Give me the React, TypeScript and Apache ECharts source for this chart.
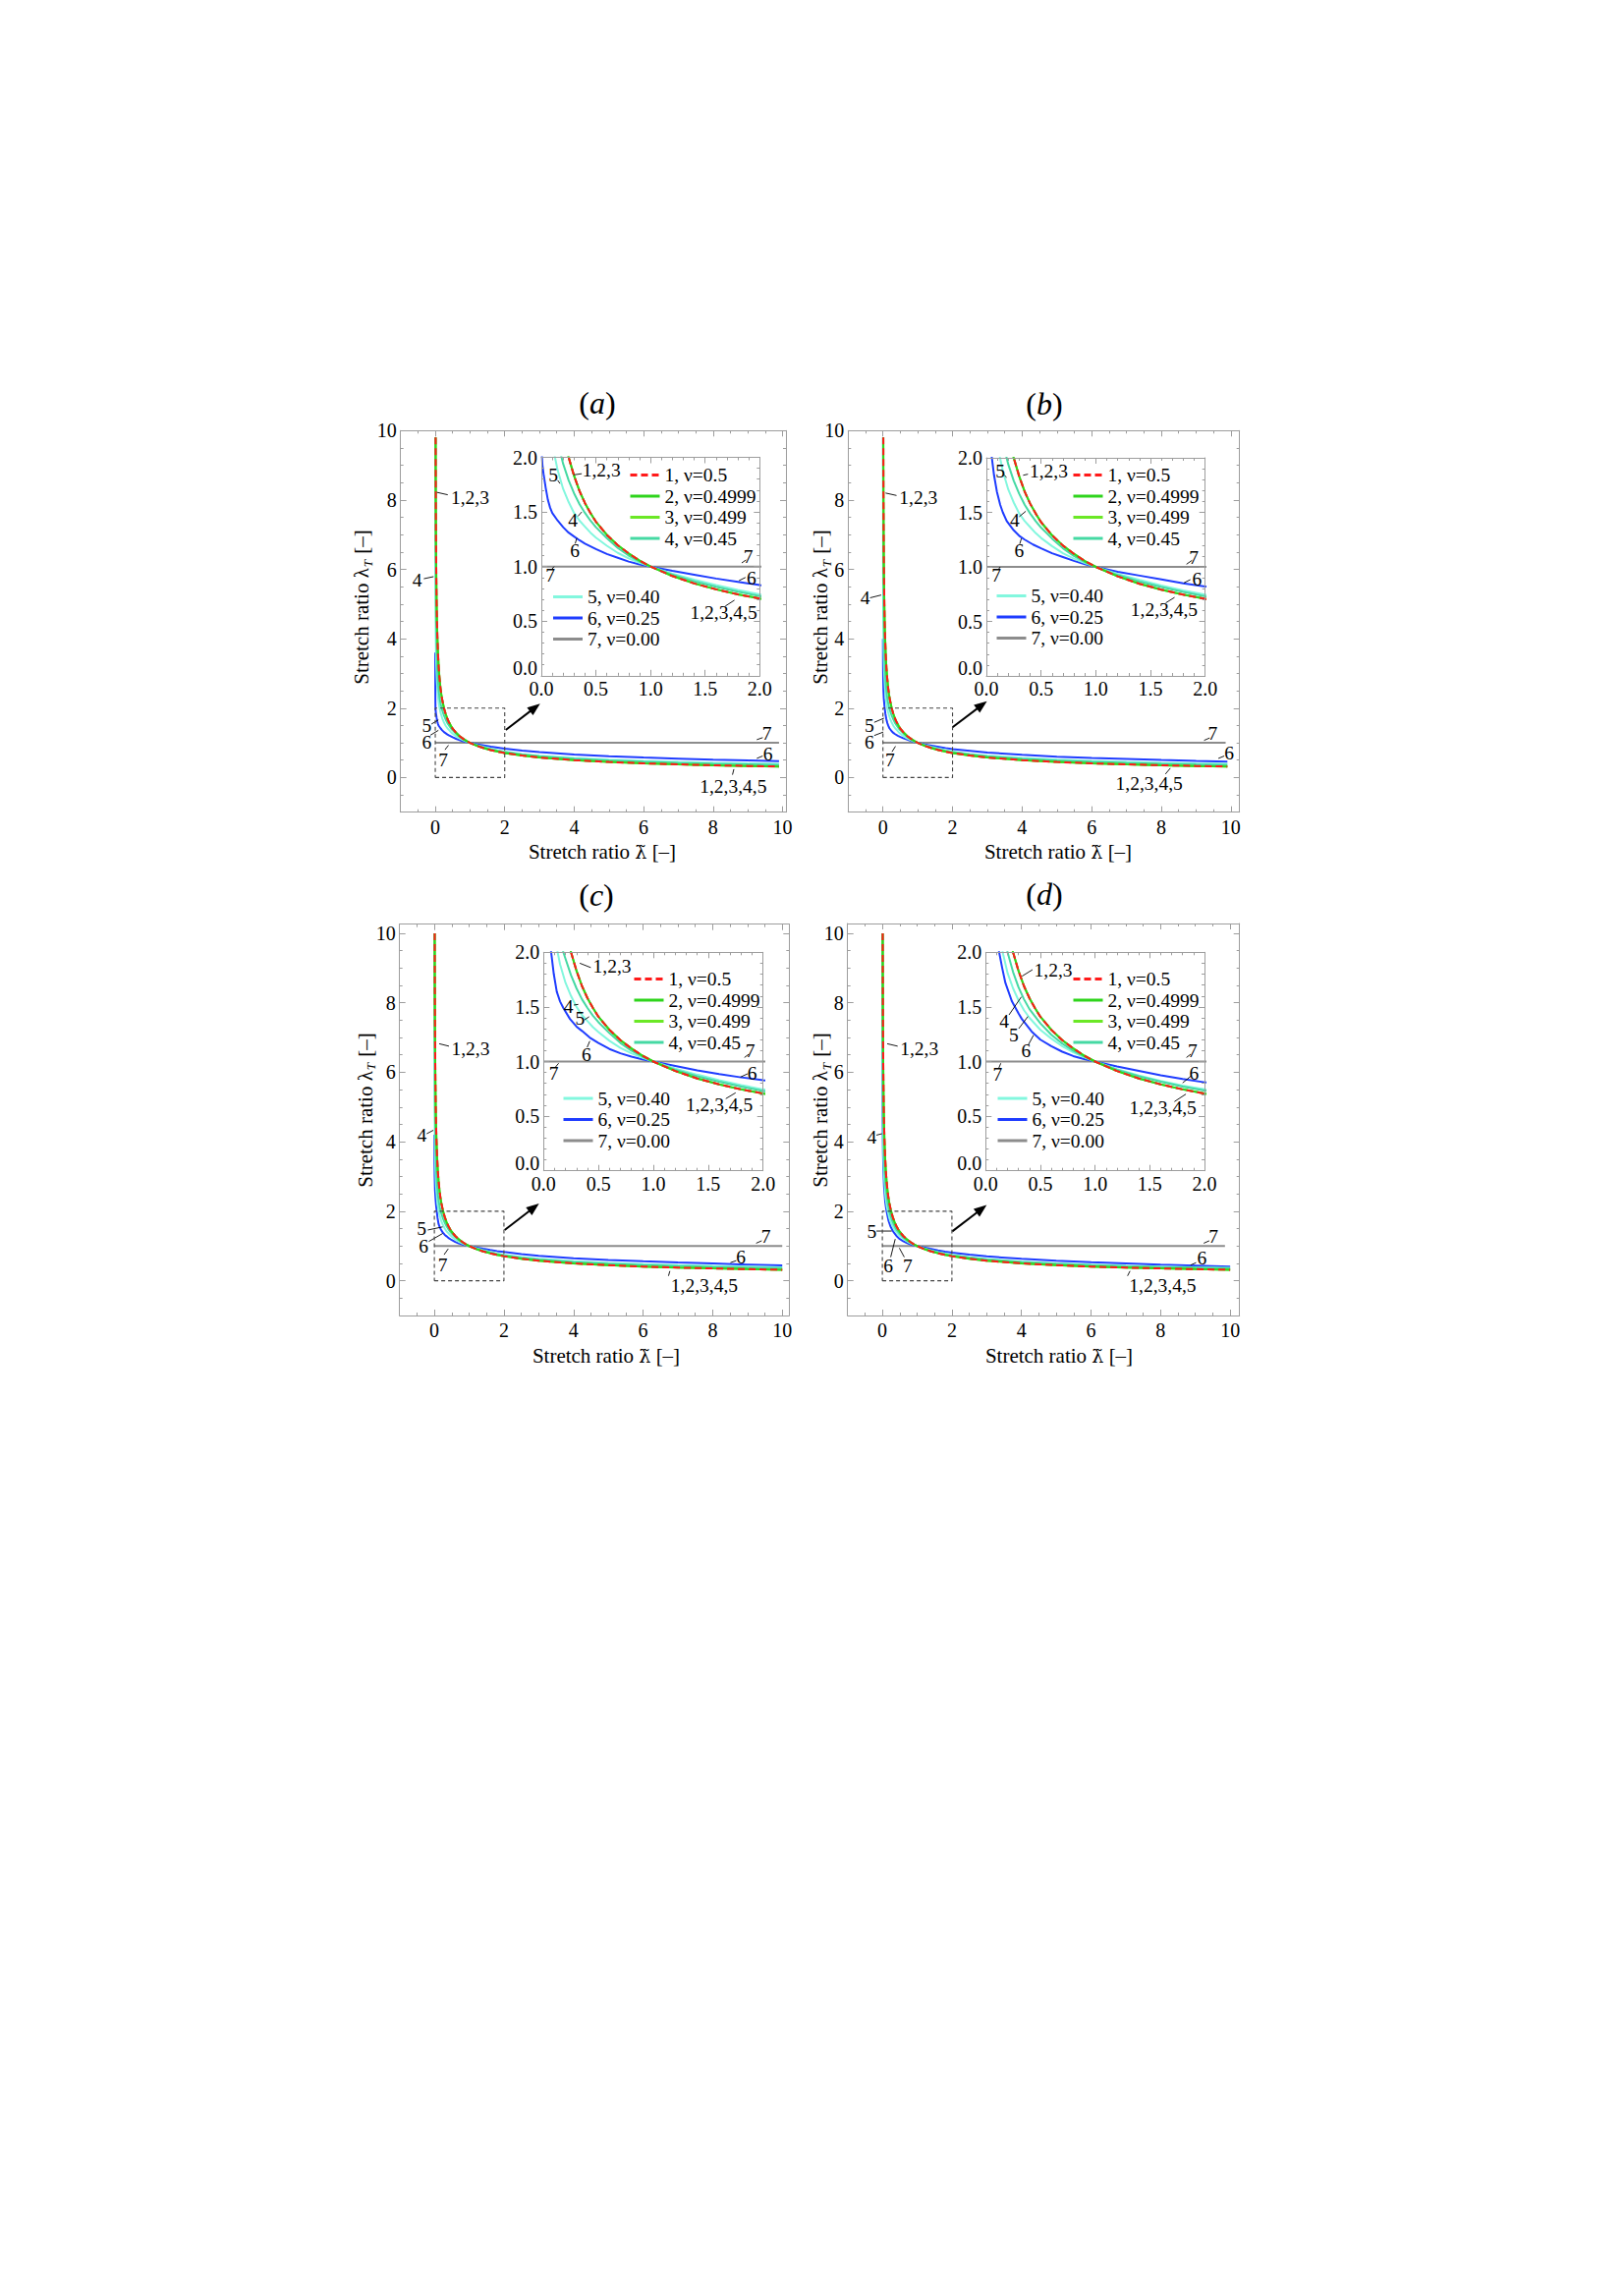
import React, { useEffect, useRef } from "react";
import * as echarts from "echarts";

const FONT = "'Liberation Serif', 'Times New Roman', serif";
const MARK_FONT = "'DejaVu Serif', 'Liberation Serif', serif";
const FRAME = "#9d9d9d";

const SERIES_NAMES = ["1, ν=0.5", "2, ν=0.4999", "3, ν=0.499", "4, ν=0.45", "5, ν=0.40", "6, ν=0.25", "7, ν=0.00"];
const SERIES_COLORS = ["#ff1a1a", "#2fd41c", "#6be825", "#45d9a3", "#83f7de", "#1f3dff", "#8c8c8c"];

const MAIN_MAJOR = [0, 2, 4, 6, 8, 10];
const MAIN_MINOR = [-0.5, 0, 0.5, 1, 1.5, 2, 2.5, 3, 3.5, 4, 4.5, 5, 5.5, 6, 6.5, 7, 7.5, 8, 8.5, 9, 9.5, 10];
const INSET_MAJOR = [0, 0.5, 1, 1.5, 2];
const INSET_MINOR = [0.1, 0.2, 0.3, 0.4, 0.6, 0.7, 0.8, 0.9, 1.1, 1.2, 1.3, 1.4, 1.6, 1.7, 1.8, 1.9];
const ZOOM_BOX = [[0, 0], [2, 0], [2, 2], [0, 2], [0, 0]];

// ---- curves: [stretch ratio λ̃, λ_T] ----
const A1 = [[0.0104, 9.8], [0.0125, 8.94], [0.015, 8.16], [0.0175, 7.56], [0.02, 7.07], [0.025, 6.32], [0.03, 5.77], [0.04, 5.0], [0.05, 4.47], [0.06, 4.08], [0.08, 3.54], [0.1, 3.16], [0.12, 2.89], [0.15, 2.58], [0.175, 2.39], [0.2, 2.24], [0.25, 2.0], [0.3, 1.83], [0.35, 1.69], [0.4, 1.58], [0.45, 1.49], [0.5, 1.41], [0.6, 1.29], [0.7, 1.195], [0.8, 1.12], [0.9, 1.054], [1, 1], [1.2, 0.913], [1.4, 0.845], [1.6, 0.791], [1.8, 0.745], [2, 0.707], [2.5, 0.632], [3, 0.577], [4, 0.5], [5, 0.447], [6, 0.408], [7, 0.378], [8, 0.354], [9, 0.333], [9.9, 0.318]];
const A4 = [[0.0048, 9.8], [0.006, 8.9], [0.008, 7.8], [0.01, 7.0], [0.0125, 6.3], [0.015, 5.8], [0.02, 5.1], [0.025, 4.6], [0.03, 4.25], [0.04, 3.75], [0.05, 3.4], [0.06, 3.1], [0.08, 2.75], [0.1, 2.5], [0.12, 2.33], [0.15, 2.14], [0.185, 2.0], [0.2, 1.94], [0.25, 1.79], [0.3, 1.67], [0.35, 1.57], [0.4, 1.49], [0.45, 1.42], [0.5, 1.36], [0.6, 1.26], [0.7, 1.17], [0.8, 1.1], [0.9, 1.045], [1, 1], [1.2, 0.925], [1.4, 0.865], [1.6, 0.815], [1.8, 0.77], [2, 0.73], [2.5, 0.66], [3, 0.61], [4, 0.54], [5, 0.49], [6, 0.455], [7, 0.425], [8, 0.4], [9, 0.38], [9.9, 0.365]];
const A5 = [[0.001, 9.8], [0.002, 7.9], [0.003, 6.9], [0.005, 5.8], [0.0075, 5.1], [0.01, 4.6], [0.015, 4.05], [0.02, 3.68], [0.03, 3.22], [0.04, 2.92], [0.05, 2.71], [0.06, 2.55], [0.08, 2.32], [0.1, 2.15], [0.125, 2.0], [0.15, 1.88], [0.2, 1.71], [0.25, 1.59], [0.3, 1.49], [0.35, 1.42], [0.4, 1.365], [0.45, 1.31], [0.5, 1.265], [0.6, 1.19], [0.7, 1.125], [0.8, 1.075], [0.9, 1.035], [1, 1], [1.2, 0.935], [1.4, 0.88], [1.6, 0.83], [1.8, 0.785], [2, 0.745], [2.5, 0.68], [3, 0.63], [4, 0.56], [5, 0.515], [6, 0.48], [7, 0.45], [8, 0.425], [9, 0.405], [9.9, 0.39]];
const A6 = [[0.0003, 3.6], [0.001, 2.9], [0.002, 2.5], [0.004, 2.15], [0.006, 2.0], [0.01, 1.93], [0.02, 1.85], [0.04, 1.72], [0.06, 1.61], [0.08, 1.54], [0.1, 1.49], [0.15, 1.42], [0.2, 1.36], [0.25, 1.31], [0.3, 1.275], [0.35, 1.24], [0.4, 1.21], [0.5, 1.16], [0.6, 1.115], [0.7, 1.08], [0.8, 1.045], [0.9, 1.02], [1, 1], [1.2, 0.96], [1.4, 0.925], [1.6, 0.89], [1.8, 0.86], [2, 0.83], [2.5, 0.775], [3, 0.73], [4, 0.665], [5, 0.615], [6, 0.575], [7, 0.545], [8, 0.515], [9, 0.49], [9.9, 0.47]];
const A7 = [[0, 1], [9.9, 1]];

const B6 = [[0.0008, 4.0], [0.003, 3.3], [0.008, 2.8], [0.015, 2.5], [0.025, 2.28], [0.04, 2.1], [0.05, 2.0], [0.07, 1.84], [0.096, 1.69], [0.126, 1.57], [0.15, 1.5], [0.186, 1.42], [0.25, 1.335], [0.306, 1.28], [0.35, 1.25], [0.426, 1.205], [0.5, 1.17], [0.6, 1.125], [0.7, 1.09], [0.8, 1.055], [0.9, 1.025], [1, 1], [1.2, 0.955], [1.4, 0.92], [1.6, 0.885], [1.8, 0.85], [2, 0.82], [2.5, 0.77], [3, 0.72], [4, 0.655], [5, 0.6], [6, 0.565], [7, 0.535], [8, 0.505], [9, 0.48], [9.9, 0.46]];
const B7 = [[0, 1], [9.85, 1]];

const C1 = [[0.01, 10.0], [0.0125, 8.94], [0.015, 8.16], [0.0175, 7.56], [0.02, 7.07], [0.025, 6.32], [0.03, 5.77], [0.04, 5.0], [0.05, 4.47], [0.06, 4.08], [0.08, 3.54], [0.1, 3.16], [0.12, 2.89], [0.15, 2.58], [0.175, 2.39], [0.2, 2.24], [0.25, 2.0], [0.3, 1.83], [0.35, 1.69], [0.4, 1.58], [0.45, 1.49], [0.5, 1.41], [0.6, 1.29], [0.7, 1.195], [0.8, 1.12], [0.9, 1.054], [1, 1], [1.2, 0.913], [1.4, 0.845], [1.6, 0.791], [1.8, 0.745], [2, 0.707], [2.5, 0.632], [3, 0.577], [4, 0.5], [5, 0.447], [6, 0.408], [7, 0.378], [8, 0.354], [9, 0.333], [10, 0.316]];
const C4 = [[0.0045, 10.0], [0.006, 8.9], [0.008, 7.8], [0.01, 7.0], [0.0125, 6.3], [0.015, 5.8], [0.02, 5.1], [0.025, 4.6], [0.03, 4.25], [0.04, 3.75], [0.05, 3.4], [0.06, 3.1], [0.08, 2.75], [0.1, 2.5], [0.12, 2.33], [0.15, 2.14], [0.18, 2.0], [0.2, 1.94], [0.25, 1.79], [0.3, 1.67], [0.35, 1.57], [0.4, 1.49], [0.45, 1.42], [0.5, 1.36], [0.6, 1.26], [0.7, 1.17], [0.8, 1.1], [0.9, 1.045], [1, 1], [1.2, 0.925], [1.4, 0.865], [1.6, 0.815], [1.8, 0.77], [2, 0.73], [2.5, 0.66], [3, 0.61], [4, 0.54], [5, 0.49], [6, 0.455], [7, 0.425], [8, 0.4], [9, 0.38], [10, 0.363]];
const C5 = [[0.001, 10.0], [0.002, 7.9], [0.003, 6.9], [0.005, 5.8], [0.0075, 5.1], [0.01, 4.6], [0.015, 4.05], [0.02, 3.68], [0.03, 3.22], [0.04, 2.92], [0.05, 2.71], [0.06, 2.55], [0.08, 2.32], [0.1, 2.15], [0.128, 2.0], [0.15, 1.89], [0.2, 1.72], [0.25, 1.6], [0.3, 1.5], [0.35, 1.425], [0.4, 1.37], [0.45, 1.315], [0.5, 1.27], [0.6, 1.19], [0.7, 1.125], [0.8, 1.075], [0.9, 1.035], [1, 1], [1.2, 0.935], [1.4, 0.88], [1.6, 0.83], [1.8, 0.785], [2, 0.745], [2.5, 0.68], [3, 0.63], [4, 0.56], [5, 0.515], [6, 0.48], [7, 0.45], [8, 0.425], [9, 0.405], [10, 0.388]];
const C6 = [[0.001, 4.2], [0.005, 3.4], [0.01, 3.0], [0.02, 2.6], [0.035, 2.35], [0.05, 2.17], [0.069, 2.0], [0.093, 1.8], [0.12, 1.64], [0.15, 1.55], [0.18, 1.49], [0.24, 1.39], [0.3, 1.32], [0.35, 1.28], [0.42, 1.22], [0.5, 1.17], [0.6, 1.115], [0.7, 1.075], [0.8, 1.045], [0.9, 1.02], [1, 1], [1.2, 0.96], [1.4, 0.92], [1.6, 0.885], [1.8, 0.855], [2, 0.83], [2.5, 0.77], [3, 0.72], [4, 0.65], [5, 0.6], [6, 0.56], [7, 0.525], [8, 0.495], [9, 0.465], [10, 0.44]];
const C7 = [[0, 1], [10, 1]];

const D4 = [[0.005, 10.0], [0.0075, 8.25], [0.01, 7.25], [0.015, 6.1], [0.02, 5.4], [0.03, 4.5], [0.05, 3.63], [0.08, 2.96], [0.1, 2.69], [0.15, 2.26], [0.2, 2.0], [0.25, 1.82], [0.3, 1.68], [0.35, 1.57], [0.4, 1.48], [0.5, 1.35], [0.6, 1.245], [0.7, 1.165], [0.8, 1.1], [0.9, 1.046], [1, 1], [1.2, 0.925], [1.4, 0.865], [1.6, 0.815], [1.8, 0.77], [2, 0.735], [2.5, 0.665], [3, 0.615], [4, 0.54], [5, 0.49], [6, 0.45], [7, 0.42], [8, 0.395], [9, 0.375], [10, 0.355]];
const D5 = [[0.0015, 9.8], [0.003, 7.8], [0.005, 6.6], [0.01, 5.5], [0.02, 4.25], [0.03, 3.66], [0.05, 3.03], [0.08, 2.54], [0.1, 2.34], [0.13, 2.13], [0.16, 1.98], [0.2, 1.81], [0.25, 1.67], [0.3, 1.56], [0.35, 1.47], [0.4, 1.4], [0.5, 1.29], [0.6, 1.21], [0.7, 1.14], [0.8, 1.085], [0.9, 1.04], [1, 1], [1.2, 0.93], [1.4, 0.873], [1.6, 0.822], [1.8, 0.78], [2, 0.745], [2.5, 0.675], [3, 0.625], [4, 0.55], [5, 0.5], [6, 0.46], [7, 0.43], [8, 0.405], [9, 0.385], [10, 0.37]];
const D6 = [[0.001, 9.9], [0.002, 7.9], [0.005, 5.8], [0.01, 4.6], [0.02, 3.65], [0.03, 3.2], [0.05, 2.7], [0.08, 2.3], [0.1, 2.14], [0.123, 2.0], [0.15, 1.86], [0.18, 1.72], [0.24, 1.55], [0.3, 1.44], [0.33, 1.39], [0.42, 1.275], [0.5, 1.2], [0.6, 1.14], [0.7, 1.09], [0.8, 1.05], [0.9, 1.022], [1, 1], [1.2, 0.955], [1.4, 0.915], [1.6, 0.875], [1.8, 0.84], [2, 0.81], [2.5, 0.75], [3, 0.7], [4, 0.63], [5, 0.575], [6, 0.535], [7, 0.5], [8, 0.465], [9, 0.435], [10, 0.405]];
const D7 = [[0, 1], [9.85, 1]];

// ---- curve labels with leader lines (text position, leader from, leader to) ----
const A_MAIN_NOTES = [
  { text: "1,2,3", at: [1.0, 8.08], from: [0.05, 8.22], to: [0.36, 8.15] },
  { text: "4", at: [-0.52, 5.7], from: [-0.33, 5.73], to: [-0.05, 5.79] },
  { text: "5", at: [-0.245, 1.5], from: [-0.11, 1.54], to: [0.09, 1.66] },
  { text: "6", at: [-0.245, 1.02], from: [-0.14, 1.22], to: [0.09, 1.36] },
  { text: "7", at: [0.23, 0.52], from: [0.28, 0.8], to: [0.38, 0.93] },
  { text: "7", at: [9.55, 1.28], from: [9.26, 1.09], to: [9.43, 1.15] },
  { text: "6", at: [9.58, 0.69], from: [9.26, 0.55], to: [9.43, 0.62] },
  { text: "1,2,3,4,5", at: [8.58, -0.27], from: [8.56, 0.08], to: [8.6, 0.24] },
];
const A_INSET_NOTES = [
  { text: "5", at: [0.11, 1.84], from: [0.15, 1.79], to: [0.17, 1.76] },
  { text: "1,2,3", at: [0.55, 1.88], from: [0.3, 1.84], to: [0.37, 1.85] },
  { text: "4", at: [0.29, 1.42], from: [0.335, 1.46], to: [0.37, 1.5] },
  { text: "6", at: [0.306, 1.147], from: [0.31, 1.21], to: [0.325, 1.26] },
  { text: "7", at: [0.081, 0.922], from: [0.096, 0.975], to: [0.117, 1.0] },
  { text: "7", at: [1.895, 1.093], from: [1.835, 1.033], to: [1.875, 1.06] },
  { text: "6", at: [1.925, 0.892], from: [1.81, 0.871], to: [1.87, 0.9] },
  { text: "1,2,3,4,5", at: [1.67, 0.578], from: [1.685, 0.638], to: [1.769, 0.692] },
];
const B_MAIN_NOTES = [
  { text: "1,2,3", at: [1.02, 8.08], from: [0.075, 8.2], to: [0.39, 8.13] },
  { text: "4", at: [-0.51, 5.19], from: [-0.37, 5.18], to: [-0.05, 5.26] },
  { text: "5", at: [-0.39, 1.5], from: [-0.25, 1.59], to: [0.03, 1.71] },
  { text: "6", at: [-0.39, 1.02], from: [-0.25, 1.21], to: [0.01, 1.31] },
  { text: "7", at: [0.2, 0.5], from: [0.26, 0.74], to: [0.36, 0.9] },
  { text: "7", at: [9.48, 1.26], from: [9.23, 1.07], to: [9.39, 1.14] },
  { text: "6", at: [9.95, 0.71], from: [9.64, 0.55], to: [9.81, 0.62] },
  { text: "1,2,3,4,5", at: [7.65, -0.16], from: [8.12, 0.1], to: [8.26, 0.27] },
];
const B_INSET_NOTES = [
  { text: "5", at: [0.126, 1.88], from: [0.165, 1.84], to: [0.185, 1.82] },
  { text: "1,2,3", at: [0.57, 1.88], from: [0.336, 1.84], to: [0.38, 1.85] },
  { text: "4", at: [0.26, 1.43], from: [0.3, 1.46], to: [0.36, 1.51] },
  { text: "6", at: [0.3, 1.147], from: [0.305, 1.21], to: [0.32, 1.26] },
  { text: "7", at: [0.09, 0.922], from: [0.11, 0.975], to: [0.126, 1.0] },
  { text: "7", at: [1.895, 1.087], from: [1.829, 1.024], to: [1.88, 1.06] },
  { text: "6", at: [1.925, 0.883], from: [1.805, 0.853], to: [1.865, 0.883] },
  { text: "1,2,3,4,5", at: [1.625, 0.61], from: [1.64, 0.67], to: [1.72, 0.72] },
];
const C_MAIN_NOTES = [
  { text: "1,2,3", at: [1.04, 6.68], from: [0.14, 6.82], to: [0.42, 6.75] },
  { text: "4", at: [-0.36, 4.19], from: [-0.22, 4.23], to: [-0.03, 4.33] },
  { text: "5", at: [-0.37, 1.5], from: [-0.19, 1.46], to: [0.24, 1.55] },
  { text: "6", at: [-0.31, 0.99], from: [-0.16, 1.13], to: [0.24, 1.36] },
  { text: "7", at: [0.24, 0.47], from: [0.28, 0.75], to: [0.4, 0.92] },
  { text: "7", at: [9.53, 1.27], from: [9.25, 1.08], to: [9.41, 1.15] },
  { text: "6", at: [8.81, 0.68], from: [8.51, 0.52], to: [8.68, 0.58] },
  { text: "1,2,3,4,5", at: [7.76, -0.14], from: [6.73, 0.14], to: [6.77, 0.28] },
];
const C_INSET_NOTES = [
  { text: "1,2,3", at: [0.624, 1.87], from: [0.33, 1.9], to: [0.43, 1.86] },
  { text: "4", at: [0.227, 1.502], from: [0.275, 1.517], to: [0.316, 1.523] },
  { text: "5", at: [0.331, 1.397], from: [0.37, 1.38], to: [0.415, 1.41] },
  { text: "6", at: [0.391, 1.067], from: [0.397, 1.13], to: [0.421, 1.187] },
  { text: "7", at: [0.093, 0.888], from: [0.107, 0.948], to: [0.137, 0.984] },
  { text: "7", at: [1.884, 1.097], from: [1.83, 1.037], to: [1.87, 1.067] },
  { text: "6", at: [1.9, 0.894], from: [1.794, 0.858], to: [1.86, 0.888] },
  { text: "1,2,3,4,5", at: [1.6, 0.6], from: [1.66, 0.66], to: [1.75, 0.714] },
];
const D_MAIN_NOTES = [
  { text: "1,2,3", at: [1.06, 6.68], from: [0.14, 6.82], to: [0.44, 6.75] },
  { text: "4", at: [-0.3, 4.14], from: [-0.17, 4.19], to: [-0.01, 4.23] },
  { text: "5", at: [-0.3, 1.43], from: [-0.17, 1.43], to: [0.27, 1.43] },
  { text: "6", at: [0.17, 0.42], from: [0.24, 0.68], to: [0.37, 1.2] },
  { text: "7", at: [0.73, 0.42], from: [0.63, 0.68], to: [0.49, 0.94] },
  { text: "7", at: [9.52, 1.27], from: [9.24, 1.08], to: [9.4, 1.15] },
  { text: "6", at: [9.19, 0.64], from: [8.86, 0.45], to: [9.02, 0.52] },
  { text: "1,2,3,4,5", at: [8.06, -0.14], from: [7.05, 0.14], to: [7.12, 0.28] },
];
const D_INSET_NOTES = [
  { text: "1,2,3", at: [0.617, 1.84], from: [0.332, 1.781], to: [0.428, 1.841] },
  { text: "4", at: [0.168, 1.373], from: [0.213, 1.427], to: [0.326, 1.592] },
  { text: "5", at: [0.257, 1.247], from: [0.302, 1.301], to: [0.386, 1.412] },
  { text: "6", at: [0.368, 1.103], from: [0.392, 1.157], to: [0.437, 1.241] },
  { text: "7", at: [0.108, 0.881], from: [0.117, 0.933], to: [0.138, 0.984] },
  { text: "7", at: [1.89, 1.097], from: [1.835, 1.037], to: [1.874, 1.067] },
  { text: "6", at: [1.904, 0.888], from: [1.8, 0.804], to: [1.883, 0.873] },
  { text: "1,2,3,4,5", at: [1.62, 0.58], from: [1.725, 0.633], to: [1.83, 0.702] },
];

const PANELS = [
  {
    letter: "a",
    main: { left: 407.7, top: 438.3, width: 392.3, height: 388.4, x: [-1, 10.1], y: [-1, 10] },
    inset: { left: 551, top: 465.5, width: 222.3, height: 222.3 },
    curves: [A1, A1, A1, A4, A5, A6, A7],
    mainNotes: A_MAIN_NOTES, insetNotes: A_INSET_NOTES,
    arrow: [[2.03, 1.37], [3.02, 2.13]],
    titleAt: [608, 410], xNameAt: [613, 867], yNameAt: [368, 618],
    legend1: [640, 473.5], legend2: [561.5, 597.5],
  },
  {
    letter: "b",
    main: { left: 863.3, top: 438.3, width: 398.4, height: 388.4, x: [-1, 10.25], y: [-1, 10] },
    inset: { left: 1004, top: 466, width: 222.7, height: 222 },
    curves: [A1, A1, A1, A4, A5, B6, B7],
    mainNotes: B_MAIN_NOTES, insetNotes: B_INSET_NOTES,
    arrow: [[2.0, 1.45], [2.99, 2.2]],
    titleAt: [1063, 411], xNameAt: [1077, 867], yNameAt: [835, 618],
    legend1: [1091, 473.5], legend2: [1013, 596.5],
  },
  {
    letter: "c",
    main: { left: 406.7, top: 940.7, width: 396.6, height: 398.3, x: [-1, 10.2], y: [-1, 10.26] },
    inset: { left: 553.3, top: 969.3, width: 223.4, height: 222.4 },
    curves: [C1, C1, C1, C4, C5, C6, C7],
    mainNotes: C_MAIN_NOTES, insetNotes: C_INSET_NOTES,
    arrow: [[2.02, 1.46], [3.01, 2.22]],
    titleAt: [607, 911], xNameAt: [617, 1380], yNameAt: [371.7, 1130],
    legend1: [644, 986.5], legend2: [572, 1108],
  },
  {
    letter: "d",
    main: { left: 862.7, top: 940, width: 399, height: 399, x: [-1, 10.27], y: [-1, 10.28] },
    inset: { left: 1003.3, top: 969.3, width: 222.7, height: 222.4 },
    curves: [C1, C1, C1, D4, D5, D6, D7],
    mainNotes: D_MAIN_NOTES, insetNotes: D_INSET_NOTES,
    arrow: [[2.01, 1.42], [3.0, 2.18]],
    titleAt: [1063, 910], xNameAt: [1078, 1380], yNameAt: [835, 1130],
    legend1: [1091, 986.5], legend2: [1014, 1108],
  },
];

const TICK_FONT = 20;
const NOTE_FONT = 19.5;
const LEGEND_FONT = 19.5;
const NAME_FONT = 21;
const TITLE_FONT = 32;

function buildAxes(gi: number, xr: number[], yr: number[], major: number[], minor: number[], fmt: (v: number) => string, z: number, inset: boolean) {
  const base = { type: "value", gridIndex: gi, splitLine: { show: false }, z, silent: true };
  const frame = { show: true, onZero: false, lineStyle: { color: FRAME, width: 1 } };
  const noLine = { show: false, onZero: false };
  const majTick = { show: true, inside: true, length: 6, customValues: major, lineStyle: { color: FRAME, width: 1 } };
  const minTick = { show: true, inside: true, length: 3, customValues: minor, lineStyle: { color: FRAME, width: 1 } };
  const label = { show: true, customValues: major, formatter: fmt, color: "#000", fontFamily: FONT, fontSize: TICK_FONT, margin: inset ? 3 : 5 };
  const yLabel = inset
    ? {
        ...label, margin: 4,
        formatter: (v: number) => (v === 0 ? "{lo|" + fmt(v) + "}" : fmt(v)),
        rich: { lo: { fontFamily: FONT, fontSize: TICK_FONT, color: "#000", padding: [0, 0, 16, 0] } },
      }
    : { ...label, margin: 4 };
  const off = { show: false };
  const xs = [
    { ...base, position: "bottom", min: xr[0], max: xr[1], axisLine: frame, axisTick: majTick, axisLabel: label },
    { ...base, position: "bottom", min: xr[0], max: xr[1], axisLine: noLine, axisTick: minTick, axisLabel: off },
    { ...base, position: "top", min: xr[0], max: xr[1], axisLine: frame, axisTick: majTick, axisLabel: off },
    { ...base, position: "top", min: xr[0], max: xr[1], axisLine: noLine, axisTick: minTick, axisLabel: off },
  ];
  const ys = [
    { ...base, position: "left", min: yr[0], max: yr[1], axisLine: frame, axisTick: majTick, axisLabel: yLabel },
    { ...base, position: "left", min: yr[0], max: yr[1], axisLine: noLine, axisTick: minTick, axisLabel: off },
    { ...base, position: "right", min: yr[0], max: yr[1], axisLine: frame, axisTick: majTick, axisLabel: off },
    { ...base, position: "right", min: yr[0], max: yr[1], axisLine: noLine, axisTick: minTick, axisLabel: off },
  ];
  return { xs, ys };
}

function lineSeries(gi: number, idx: number, data: number[][], z: number) {
  return {
    type: "line", name: SERIES_NAMES[idx], xAxisIndex: 4 * gi, yAxisIndex: 4 * gi, data,
    showSymbol: false, symbol: "none", z, silent: true, clip: true, animation: false,
    emphasis: { disabled: true },
    itemStyle: { color: SERIES_COLORS[idx] },
    lineStyle: { color: SERIES_COLORS[idx], width: 2, type: idx === 0 ? [7, 4] : "solid" },
  };
}

function notesSeries(gi: number, notes: any[], z: number) {
  return {
    type: "custom", xAxisIndex: 4 * gi, yAxisIndex: 4 * gi, z, silent: true, clip: false, animation: false,
    data: notes.map((n) => n.at),
    renderItem: (params: any, api: any) => {
      const n = notes[params.dataIndex];
      const t = api.coord(n.at);
      const p = api.coord(n.from);
      const q = api.coord(n.to);
      return {
        type: "group",
        children: [
          { type: "line", shape: { x1: p[0], y1: p[1], x2: q[0], y2: q[1] }, style: { stroke: "#000", lineWidth: 0.9 } },
          { type: "text", x: t[0], y: t[1], style: { text: n.text, fontSize: NOTE_FONT, fontFamily: FONT, fill: "#000", align: "center", verticalAlign: "middle" } },
        ],
      };
    },
  };
}

function arrowSeries(gi: number, arrow: number[][], z: number) {
  return {
    type: "custom", xAxisIndex: 4 * gi, yAxisIndex: 4 * gi, z, silent: true, clip: false, animation: false,
    data: [arrow[1]],
    renderItem: (_params: any, api: any) => {
      const p = api.coord(arrow[0]);
      const q = api.coord(arrow[1]);
      const dx = q[0] - p[0], dy = q[1] - p[1];
      const L = Math.hypot(dx, dy);
      const ux = dx / L, uy = dy / L;
      const hl = 13, hw = 5;
      const bx = q[0] - ux * hl, by = q[1] - uy * hl;
      return {
        type: "group",
        children: [
          { type: "line", shape: { x1: p[0], y1: p[1], x2: bx + ux * 2, y2: by + uy * 2 }, style: { stroke: "#000", lineWidth: 2 } },
          { type: "polygon", shape: { points: [[q[0], q[1]], [bx - uy * hw, by + ux * hw], [bx + uy * hw, by - ux * hw]] }, style: { fill: "#000" } },
        ],
      };
    },
  };
}

function buildOption() {
  const grids: any[] = [];
  const xAxes: any[] = [];
  const yAxes: any[] = [];
  const series: any[] = [];
  const legends: any[] = [];
  const graphics: any[] = [];
  const legendBase = {
    orient: "vertical", itemWidth: 30, itemHeight: 14, itemGap: 1.5, padding: 0, selectedMode: false, z: 15,
    textStyle: { fontSize: LEGEND_FONT, fontFamily: FONT, color: "#000", lineHeight: 19.5 },
    lineStyle: { width: 3 },
    itemStyle: { opacity: 0, borderWidth: 0 },
  };

  PANELS.forEach((p, pi) => {
    const gm = 2 * pi;
    const gin = 2 * pi + 1;
    grids.push({ left: p.main.left, top: p.main.top, width: p.main.width, height: p.main.height, show: false, z: 2 });
    grids.push({ left: p.inset.left, top: p.inset.top, width: p.inset.width, height: p.inset.height, show: true, backgroundColor: "#fff", borderWidth: 0, z: 10 });

    const m = buildAxes(gm, p.main.x, p.main.y, MAIN_MAJOR, MAIN_MINOR, (v: number) => String(v), 1, false);
    xAxes.push(...m.xs); yAxes.push(...m.ys);
    const ins = buildAxes(gin, [0, 2], [0, 2], INSET_MAJOR, INSET_MINOR, (v: number) => v.toFixed(1), 12, true);
    xAxes.push(...ins.xs); yAxes.push(...ins.ys);

    for (let k = 6; k >= 0; k--) series.push(lineSeries(gm, k, p.curves[k], 2));
    series.push({
      type: "line", name: "zoom box", xAxisIndex: 4 * gm, yAxisIndex: 4 * gm, data: ZOOM_BOX,
      showSymbol: false, symbol: "none", z: 3, silent: true, clip: false,
      lineStyle: { color: "#444", width: 1.1, type: [4, 3] },
    });
    series.push(notesSeries(gm, p.mainNotes, 3));
    series.push(arrowSeries(gm, p.arrow, 3));

    for (let k = 6; k >= 0; k--) series.push(lineSeries(gin, k, p.curves[k], 11));
    series.push(notesSeries(gin, p.insetNotes, 13));

    legends.push({ ...legendBase, data: SERIES_NAMES.slice(0, 4), left: p.legend1[0], top: p.legend1[1] });
    legends.push({ ...legendBase, data: SERIES_NAMES.slice(4), left: p.legend2[0], top: p.legend2[1] });

    graphics.push({
      type: "text", x: p.titleAt[0], y: p.titleAt[1], silent: true,
      style: {
        text: `{p|(}{i|${p.letter}}{p|)}`,
        rich: { p: { fontSize: TITLE_FONT, fontFamily: FONT }, i: { fontSize: TITLE_FONT, fontFamily: FONT, fontStyle: "italic" } },
        align: "center", verticalAlign: "middle", fill: "#000",
      },
    });
    graphics.push({
      type: "text", x: p.xNameAt[0], y: p.xNameAt[1], silent: true,
      style: {
        text: "{n|Stretch ratio }{m|λ\u0303}{n| [–]}",
        rich: {
          n: { fontSize: NAME_FONT, fontFamily: FONT },
          m: { fontSize: 19, fontFamily: MARK_FONT },
        },
        align: "center", verticalAlign: "middle", fill: "#000",
      },
    });
    graphics.push({
      type: "text", x: p.yNameAt[0], y: p.yNameAt[1], rotation: Math.PI / 2, silent: true,
      style: {
        text: "{n|Stretch ratio λ}{s|T}{n| [–]}",
        rich: { n: { fontSize: NAME_FONT, fontFamily: FONT }, s: { fontSize: 13, fontFamily: FONT, fontStyle: "italic", padding: [12, 1, 0, 1] } },
        align: "center", verticalAlign: "middle", fill: "#000",
      },
    });
  });

  return {
    animation: false,
    backgroundColor: "#fff",
    grid: grids,
    xAxis: xAxes,
    yAxis: yAxes,
    legend: legends,
    series,
    graphic: { elements: graphics },
  };
}

export default function App() {
  const ref = useRef<HTMLDivElement>(null);
  useEffect(() => {
    if (!ref.current) return;
    const chart = echarts.init(ref.current, null, { renderer: "svg" });
    chart.setOption(buildOption() as any);
    return () => chart.dispose();
  }, []);
  return <div ref={ref} style={{ position: "absolute", left: 0, top: 0, width: 1653, height: 2336, background: "#fff" }} />;
}
